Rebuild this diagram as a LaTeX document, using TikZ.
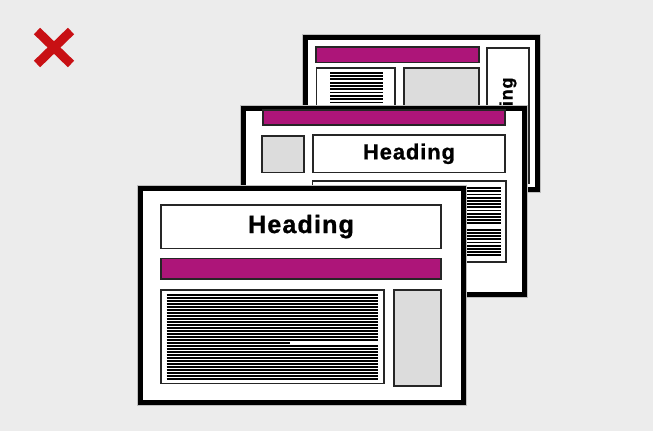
\documentclass[tikz,border=0pt]{standalone}
\usepackage{fontspec}
\setmainfont{Liberation Sans}
\newfontfamily\headfont[LetterSpace=4.5,FakeBold=1]{Liberation Sans Bold}
\definecolor{bggray}{RGB}{236,236,236}
\definecolor{magbar}{RGB}{173,21,121}
\definecolor{boxgray}{RGB}{220,220,220}
\definecolor{xred}{RGB}{200,16,20}
\begin{document}
\begin{tikzpicture}[
        x=1pt, y=-1pt,
        page/.style={draw=black, fill=white, line width=5pt, inner sep=0pt, preaction={draw=black!25, line width=7pt}},
        box/.style={draw=black!85, fill=white, line width=1.3pt, inner sep=0pt},
        bar/.style={box, fill=magbar},
        grey/.style={box, fill=boxgray},
        headtxt/.style={font=\headfont\fontsize{#1pt}{#1pt}\selectfont},
        hatch/.style={line width=1.8pt, black}
    ]
        \fill[bggray] (0,0) rectangle (653,431);
        \useasboundingbox (0,0) rectangle (653,431);
        \draw[xred, line width=9pt] (37,31) -- (71,64) (71,31) -- (37,64);
        \node[page, minimum width=232pt, minimum height=151.5pt] (back) at (421.5,113.25) {};
        \node[bar, minimum width=163pt, minimum height=15.5pt] (backbar) at (397.5,54.75) {};
        \node[box, minimum width=78.5pt, minimum height=115pt] (backtext) at (355.75,125.5) {};
        \node[grey, minimum width=75pt, minimum height=115pt] (backgrey) at (441.5,125.5) {};
        \node[box, minimum width=42pt, minimum height=135pt] (backside) at (508,115.5) {};
        \node[headtxt=18, rotate=90] (backhead) at (backside.center) {Heading};
        \foreach \k in {0,...,20} \draw[hatch] (330,72.7+3.3*\k) -- (383,72.7+3.3*\k);
        \node[page, minimum width=280.5pt, minimum height=186pt] (mid) at (383.75,201) {};
        \node[bar, minimum width=242pt, minimum height=15pt] (midbar) at (384,117.5) {};
        \node[grey, minimum width=42pt, minimum height=36.7pt] (midgrey) at (283,154.3) {};
        \node[box, minimum width=192pt, minimum height=37.7pt, headtxt=21.8] (midhead) at (409,153.8) {Heading};
        \node[box, minimum width=193.5pt, minimum height=81pt] (midtext) at (409.25,221.5) {};
        \foreach \k in {0,...,11,13,14,...,21} \draw[hatch] (317,188+3.2*\k) -- (501,188+3.2*\k);
        \draw[hatch] (317,226.4) -- (420,226.4);
        \node[page, minimum width=323.4pt, minimum height=214pt] (front) at (301.7,295.5) {};
        \node[box, minimum width=280pt, minimum height=43.3pt, headtxt=25.1] (fronthead) at (301,226.6) {Heading};
        \node[bar, minimum width=280pt, minimum height=20.7pt] (frontbar) at (301,268.7) {};
        \node[box, minimum width=223pt, minimum height=93.3pt] (fronttext) at (272.5,336.7) {};
        \node[grey, minimum width=47pt, minimum height=96pt] (frontgrey) at (417.5,338) {};
        \foreach \y in {295,298,...,340,346,349,...,379} \draw[hatch] (166.7,\y) -- (378.3,\y);
        \draw[hatch] (166.7,343) -- (290,343);
    \end{tikzpicture}
\end{document}
